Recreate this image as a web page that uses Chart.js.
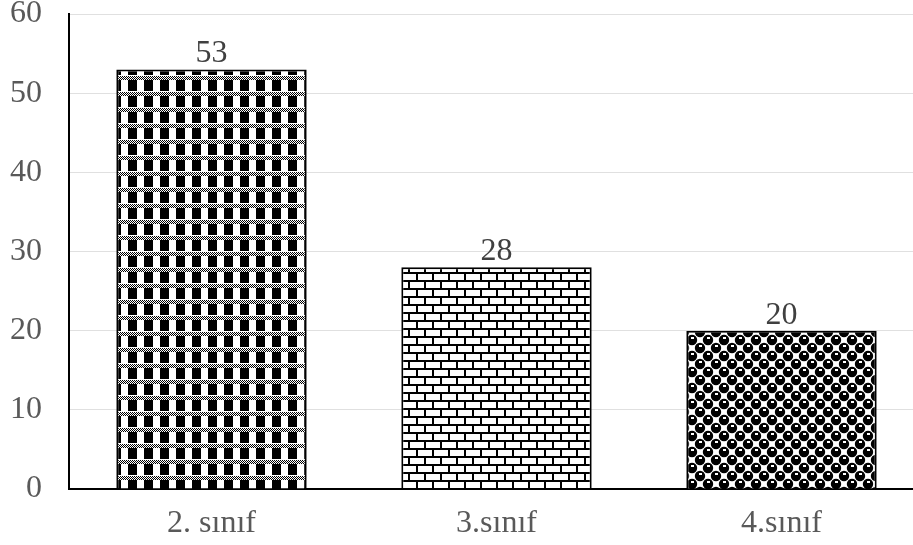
<!DOCTYPE html>
<html lang="tr">
<head>
    <meta charset="UTF-8">
    <title>Sınıf dağılımı</title>
    <script src="https://cdn.jsdelivr.net/npm/chart.js@4"></script>
    <style>
        html, body { margin: 0; padding: 0; background: #fff; overflow: hidden; }
        #wrap { width: 924px; height: 545px; }
    </style>
</head>
<body>
    <div id="wrap"><canvas id="chart" width="924" height="545"></canvas></div>

    <script>
        // Data
        const categories = ['2. sınıf', '3.sınıf', '4.sınıf'];
        const counts = [53, 28, 20];
        const yTicks = [0, 10, 20, 30, 40, 50, 60];

        // Fill patterns for each bar
        function tile(w, h, draw) {
            const c = document.createElement('canvas');
            c.width = w; c.height = h;
            const g = c.getContext('2d');
            g.fillStyle = '#fff';
            g.fillRect(0, 0, w, h);
            g.fillStyle = '#000';
            draw(g);
            return document.getElementById('chart').getContext('2d').createPattern(c, 'repeat');
        }

        const checkPattern = tile(16, 16, g => {
            g.fillRect(0, 0, 9, 11);
            for (let y = 12; y < 16; y++) {
                for (let x = 0; x < 16; x++) {
                    if ((x + y) % 2 === 0) g.fillRect(x, y, 1, 1);
                }
            }
        });

        const brickPattern = tile(16, 16, g => {
            g.fillRect(0, 0, 16, 2);
            g.fillRect(0, 8, 16, 2);
            g.fillRect(0, 0, 2, 8);
            g.fillRect(8, 8, 2, 8);
        });

        const spherePattern = tile(16, 16, g => {
            // dark balls on a checker, each with a small highlight
            [[4, 4], [12, 12], [-4, 12], [20, 4], [4, 20], [12, -4]].forEach(([x, y]) => {
                g.beginPath();
                g.arc(x, y, 5.2, 0, Math.PI * 2);
                g.fill();
            });
            g.fillStyle = '#fff';
            g.fillRect(3, 1, 3, 2);
            g.fillRect(11, 9, 3, 2);
        });

        const valueLabels = {
            id: 'valueLabels',
            afterDatasetsDraw(chart) {
                const ctx = chart.ctx;
                const meta = chart.getDatasetMeta(0);
                ctx.save();
                ctx.font = '32px "Liberation Serif", "Times New Roman", serif';
                ctx.fillStyle = '#404040';
                ctx.textAlign = 'center';
                ctx.textBaseline = 'alphabetic';
                meta.data.forEach((bar, i) => {
                    ctx.fillText(counts[i], bar.x, bar.y - 7);
                });
                ctx.restore();
            }
        };

        const serif = { family: '"Liberation Serif", "Times New Roman", serif', size: 32 };

        new Chart(document.getElementById('chart'), {
            type: 'bar',
            data: {
                labels: categories,
                datasets: [{
                    data: counts,
                    backgroundColor: [checkPattern, brickPattern, spherePattern],
                    borderColor: '#000',
                    borderWidth: 2,
                    barPercentage: 0.668,
                    categoryPercentage: 1
                }]
            },
            options: {
                responsive: false,
                animation: false,
                events: [],
                layout: { padding: { top: 14, left: 8, right: 0, bottom: 0 } },
                plugins: {
                    legend: { display: false },
                    tooltip: { enabled: false }
                },
                scales: {
                    x: {
                        grid: { display: false, drawTicks: false },
                        border: { color: '#000', width: 2 },
                        ticks: { font: serif, color: '#595959', padding: 15 },
                        afterFit(scale) { scale.height = 56; }
                    },
                    y: {
                        min: 0,
                        max: 60,
                        afterBuildTicks(scale) { scale.ticks = yTicks.map(v => ({ value: v })); },
                        grid: { color: '#e0e0e0', lineWidth: 1, drawTicks: true, tickLength: 27, tickColor: 'transparent' },
                        border: { color: '#000', width: 2 },
                        ticks: { font: { ...serif, lineHeight: 0.8 }, color: '#595959', padding: 0 },
                        afterFit(scale) { scale.width = 61; }
                    }
                }
            },
            plugins: [valueLabels]
        });
    </script>
</body>
</html>
